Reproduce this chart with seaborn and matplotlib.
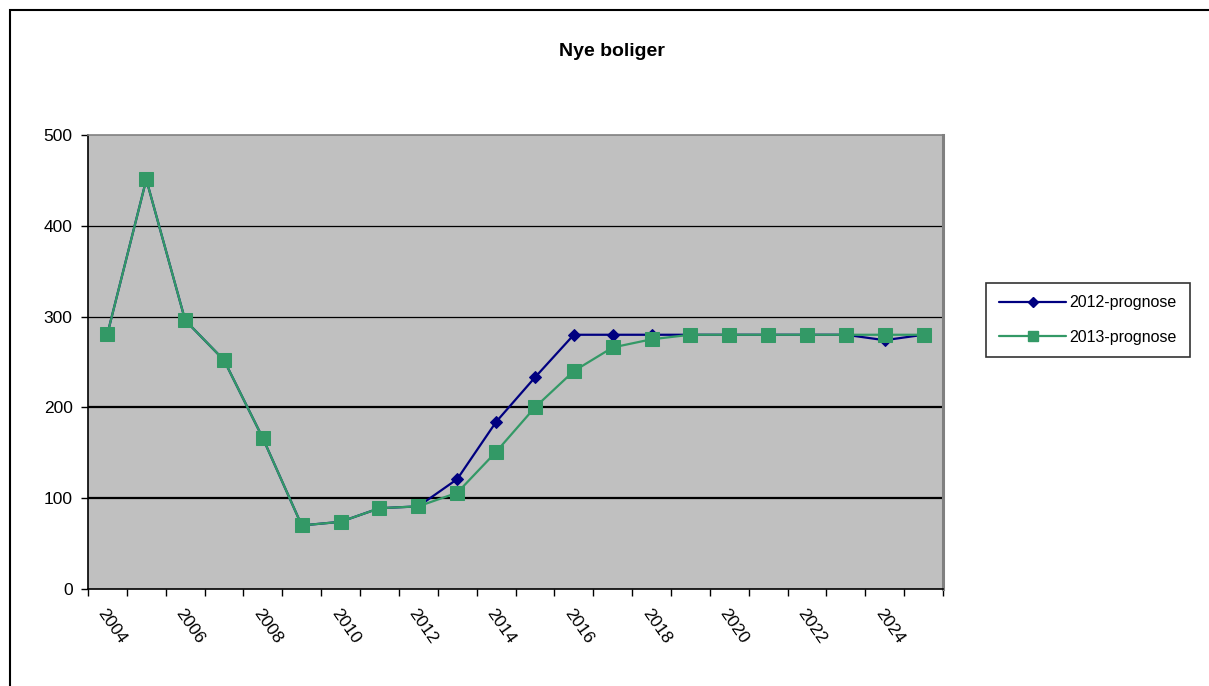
import matplotlib
matplotlib.use("Agg")
import matplotlib.pyplot as plt
import seaborn as sns
import pandas as pd
import numpy as np
from matplotlib.patches import Rectangle
from matplotlib.lines import Line2D

years = list(range(2004, 2026))
prog2012 = [281, 451, 296, 252, 166, 70, 74, 89, 91, 121, 184, 233, 280, 280, 280, 280, 280, 280, 280, 280, 274, 280]
prog2013 = [281, 451, 296, 252, 166, 70, 74, 89, 91, 106, 151, 200, 240, 266, 275, 280, 280, 280, 280, 280, 280, 280]
series_names = ["2012-prognose", "2013-prognose"]
title = "Nye boliger"

sns.set_theme(style="white")
plt.rcParams['font.family'] = ['Liberation Sans', 'DejaVu Sans']
plt.rcParams['text.color'] = 'black'
plt.rcParams['xtick.color'] = 'black'
plt.rcParams['ytick.color'] = 'black'
plt.rcParams['xtick.labelcolor'] = 'black'
plt.rcParams['ytick.labelcolor'] = 'black'

W, H = 1209, 686
fig = plt.figure(figsize=(W / 100, H / 100), dpi=100)
fig.patch.set_facecolor("white")

L, R, T, B = 88, 943, 135, 589
ax = fig.add_axes([L / W, 1 - B / H, (R - L) / W, (B - T) / H])
ax.set_facecolor("#C0C0C0")

idx = np.arange(len(years))
df1 = pd.DataFrame({"x": idx, "y": prog2012})
df2 = pd.DataFrame({"x": idx, "y": prog2013})

blue = "#000080"
green = "#339966"

# gridlines
for v, lw in [(100, 1.6), (200, 1.6), (300, 0.9), (400, 0.9)]:
    ax.axhline(v, color="black", lw=lw, zorder=1)

sns.lineplot(data=df1, x="x", y="y", ax=ax, color=blue, lw=1.6, marker="D",
             markersize=6, markeredgecolor=blue, markerfacecolor=blue, zorder=3)
sns.lineplot(data=df2, x="x", y="y", ax=ax, color=green, lw=1.6, marker="s",
             markersize=9.5, markeredgecolor=green, markerfacecolor=green, zorder=4)

ax.set_xlim(-0.5, len(years) - 0.5)
ax.set_ylim(0, 500)
ax.set_xlabel("")
ax.set_ylabel("")

# y ticks
ax.set_yticks([0, 100, 200, 300, 400, 500])
ax.set_yticklabels(["0", "100", "200", "300", "400", "500"], fontsize=12.5)
ax.tick_params(axis="y", direction="out", length=5, width=1, color="black", labelcolor="black", pad=6, left=True)

# x ticks: boundaries as major ticks, labels as minor ticks
ax.set_xticks(np.arange(-0.5, len(years), 1.0))
ax.set_xticklabels([])
ax.tick_params(axis="x", which="major", direction="out", length=5, width=1, color="black", bottom=True)
lab_pos = idx[::2]
ax.set_xticks(lab_pos, minor=True)
ax.set_xticklabels([str(years[i]) for i in lab_pos], minor=True, fontsize=12.5,
                   rotation=-55, ha="left", va="top", rotation_mode="anchor")
ax.tick_params(axis="x", which="minor", length=0, pad=12, labelcolor="black")

for s in ["left", "bottom"]:
    ax.spines[s].set_color("black")
    ax.spines[s].set_linewidth(1.2)
ax.spines["top"].set_color("#808080")
ax.spines["top"].set_linewidth(1.2)
ax.spines["right"].set_color("#808080")
ax.spines["right"].set_linewidth(2.2)

fig.text(0.506, 1 - 52 / H, title, ha="center", va="center", fontsize=14,
         fontweight="bold", color="black")

# outer chart border (cut off at right and bottom)
fig.patches.append(Rectangle((10 / W, -0.05), 1.1, 1 - 10 / H + 0.05,
                             transform=fig.transFigure, fill=False, ec="black", lw=1.5))

handles = [Line2D([0], [0], color=blue, lw=1.6, marker="D", markersize=5, markerfacecolor=blue),
           Line2D([0], [0], color=green, lw=1.6, marker="s", markersize=7, markerfacecolor=green)]
leg = fig.legend(handles, series_names, loc="center", bbox_to_anchor=(1088 / W, 1 - 320 / H),
                 fontsize=11.5, frameon=True, fancybox=False, edgecolor="black",
                 handlelength=4.2, labelspacing=1.2, borderpad=0.8, handletextpad=0.2,
                 labelcolor="black")
leg.get_frame().set_linewidth(1.2)

fig.savefig("out.png", dpi=100, facecolor="white")
